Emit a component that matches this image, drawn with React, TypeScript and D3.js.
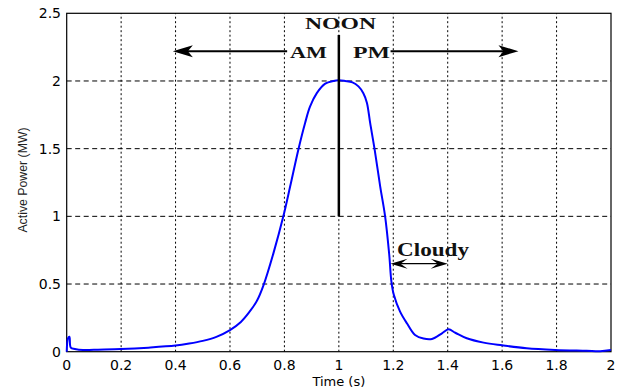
import React from "react";
import * as d3 from "d3";

const timeS = [0, 0.005, 0.01, 0.015, 0.03, 0.06, 0.1, 0.2, 0.3, 0.4, 0.45, 0.5, 0.55, 0.6, 0.64, 0.67, 0.7, 0.723, 0.76, 0.796, 0.821, 0.852, 0.876, 0.894, 0.919, 0.95, 0.98, 1.0, 1.023, 1.05, 1.072, 1.09, 1.103, 1.115, 1.131, 1.152, 1.17, 1.185, 1.193, 1.202, 1.225, 1.25, 1.28, 1.311, 1.342, 1.379, 1.403, 1.428, 1.47, 1.532, 1.6, 1.69, 1.795, 1.91, 1.96, 2.0];
const powerMW = [0.0, 0.1, 0.11, 0.03, 0.02, 0.012, 0.015, 0.02, 0.03, 0.045, 0.06, 0.08, 0.11, 0.16, 0.22, 0.29, 0.38, 0.49, 0.73, 1.0, 1.22, 1.5, 1.69, 1.81, 1.91, 1.98, 2.0, 2.005, 2.0, 1.99, 1.96, 1.91, 1.84, 1.69, 1.5, 1.22, 1.0, 0.72, 0.52, 0.42, 0.296, 0.21, 0.123, 0.097, 0.094, 0.136, 0.165, 0.14, 0.099, 0.067, 0.047, 0.025, 0.013, 0.007, 0.004, 0.012];

const xTicks = [0, 0.2, 0.4, 0.6, 0.8, 1, 1.2, 1.4, 1.6, 1.8, 2];
const yTicks = [0, 0.5, 1, 1.5, 2, 2.5];

const xLabel = "Time (s)";
const yLabel = "Active Power (MW)";
const noonTime = 1;
const noonLineTop = 2.34;
const noonLineBottom = 1.0;
const amArrowStart = 0.81;
const amArrowEnd = 0.39;
const pmArrowStart = 1.19;
const pmArrowEnd = 1.66;
const arrowLevel = 2.22;
const cloudyStart = 1.19;
const cloudyEnd = 1.4;
const cloudyLevel = 0.65;

const W = 619;
const H = 392;
const L = 66.7;
const R = 611;
const T = 13.3;
const B = 351.7;

function arrowHead(tipX: number, tipY: number, dir: number, len: number, half: number, notch: number) {
  return `M${tipX},${tipY} L${tipX - dir * len},${tipY - half} L${tipX - dir * notch},${tipY} L${tipX - dir * len},${tipY + half} Z`;
}

export default function App() {
  const x = d3.scaleLinear().domain([0, 2]).range([L, R]);
  const y = d3.scaleLinear().domain([0, 2.5]).range([B, T]);
  const pts: [number, number][] = timeS.map((t, i) => [t, powerMW[i]]);
  const line = d3
    .line<[number, number]>()
    .x((d) => x(d[0]))
    .y((d) => y(d[1]))
    .curve(d3.curveCatmullRom.alpha(0.5));

  const tickFont = "'DejaVu Sans', sans-serif";
  const serif = "'Liberation Serif', 'Times New Roman', serif";
  const ay = y(arrowLevel);
  const cy = y(cloudyLevel);

  return (
    <svg width={W} height={H} style={{ position: "absolute", left: 0, top: 0, background: "#fff" }}>
      <rect x={0} y={0} width={W} height={H} fill="#fff" />
      {/* grid */}
      {xTicks.slice(1, -1).map((t) => (
        <line key={"gx" + t} x1={x(t)} x2={x(t)} y1={B} y2={T} stroke="#000" strokeWidth={1} strokeDasharray="2,2.5" />
      ))}
      {yTicks.slice(1, -1).map((v) => (
        <line key={"gy" + v} x1={L} x2={R} y1={y(v)} y2={y(v)} stroke="#000" strokeWidth={1} strokeDasharray="5,3.5" />
      ))}
      {/* frame */}
      <rect x={L} y={T} width={R - L} height={B - T} fill="none" stroke="#000" strokeWidth={1.2} />
      {/* tick labels */}
      {xTicks.map((t) => (
        <text key={"xt" + t} x={x(t)} y={370} textAnchor="middle" fontFamily={tickFont} fontSize={14} fill="#000">
          {String(t)}
        </text>
      ))}
      {yTicks.map((v) => (
        <text key={"yt" + v} x={61} y={y(v)} dy="0.36em" textAnchor="end" fontFamily={tickFont} fontSize={14} fill="#000">
          {String(v)}
        </text>
      ))}
      <text x={(L + R) / 2} y={386} textAnchor="middle" fontFamily={tickFont} fontSize={13} fill="#000">
        {xLabel}
      </text>
      <text
        transform={`translate(27,180) rotate(-90)`}
        textAnchor="middle"
        fontFamily="'Liberation Sans', Arial, sans-serif"
        fontSize={12.3}
        fill="#222"
      >
        {yLabel}
      </text>
      {/* data */}
      <path d={line(pts) || ""} fill="none" stroke="#0000ff" strokeWidth={2} strokeLinejoin="round" />
      {/* noon line */}
      <line x1={x(noonTime)} x2={x(noonTime)} y1={y(noonLineTop)} y2={y(noonLineBottom)} stroke="#000" strokeWidth={2.5} />
      <text x={305} y={29.3} textLength={71} lengthAdjust="spacingAndGlyphs" fontFamily={serif} fontWeight="bold" fontSize={17.5} fill="#111">
        NOON
      </text>
      <text x={290} y={58.3} textLength={37} lengthAdjust="spacingAndGlyphs" fontFamily={serif} fontWeight="bold" fontSize={17.5} fill="#111">
        AM
      </text>
      <text x={353} y={58.3} textLength={37} lengthAdjust="spacingAndGlyphs" fontFamily={serif} fontWeight="bold" fontSize={17.5} fill="#111">
        PM
      </text>
      {/* AM / PM arrows */}
      <line x1={x(amArrowStart)} x2={x(amArrowEnd) + 14} y1={ay} y2={ay} stroke="#000" strokeWidth={2} />
      <path d={arrowHead(x(amArrowEnd), ay, -1, 20, 6, 15)} fill="#000" />
      <line x1={x(pmArrowStart)} x2={x(pmArrowEnd) - 14} y1={ay} y2={ay} stroke="#000" strokeWidth={2} />
      <path d={arrowHead(x(pmArrowEnd), ay, 1, 20, 6, 15)} fill="#000" />
      {/* cloudy */}
      <text x={397} y={256} textLength={72} lengthAdjust="spacingAndGlyphs" fontFamily={serif} fontWeight="bold" fontSize={18} fill="#111">
        Cloudy
      </text>
      <line x1={x(cloudyStart) + 8} x2={x(cloudyEnd) - 8} y1={cy} y2={cy} stroke="#000" strokeWidth={1.2} />
      <path d={arrowHead(x(cloudyStart), cy, -1, 17, 5, 10)} fill="#000" />
      <path d={arrowHead(x(cloudyEnd), cy, 1, 17, 5, 10)} fill="#000" />
    </svg>
  );
}
